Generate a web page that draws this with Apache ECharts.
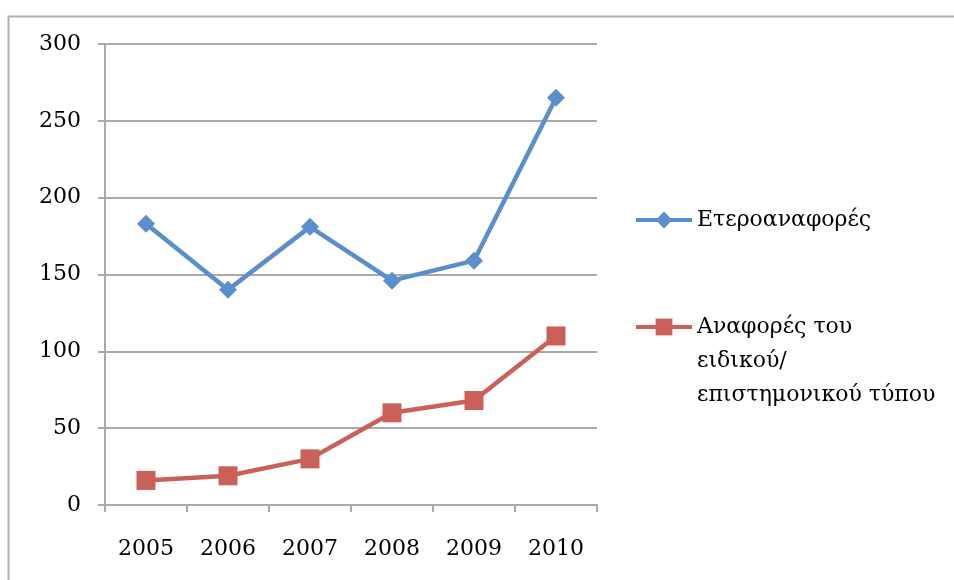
<!DOCTYPE html>
<html>
<head>
<meta charset="utf-8">
<script src="https://cdn.jsdelivr.net/npm/echarts@6/dist/echarts.min.js"></script>
<style>
html,body{margin:0;padding:0;background:#fff;}
#chart{width:954px;height:580px;}
</style>
</head>
<body>
<div id="chart"></div>
<script>
const years = ['2005', '2006', '2007', '2008', '2009', '2010'];
const seriesNames = ['Ετεροαναφορές', 'Αναφορές του\nειδικού/\nεπιστημονικού τύπου'];
const heteroRefs = [183, 140, 181, 146, 159, 265];
const scientificPress = [16, 19, 30, 60, 68, 110];
const yTicks = { min: 0, max: 300, interval: 50 };

const FONT = 'DejaVu Serif';
const GRID_COLOR = '#a9a9a9';
const BLUE = '#5a8fcb';
const RED = '#cb6058';

const chart = echarts.init(document.getElementById('chart'));
chart.setOption({
  animation: false,
  backgroundColor: '#fff',
  graphic: [{
    type: 'rect',
    left: 6, top: 14,
    shape: { width: 1000, height: 1000 },
    style: { fill: 'none', stroke: '#b0b0b0', lineWidth: 2 },
    silent: true
  }],
  grid: { left: 105, top: 44, right: 357, bottom: 75, containLabel: false },
  legend: [{
    data: [seriesNames[0]],
    orient: 'vertical',
    left: 629, top: 200,
    itemWidth: 56, itemHeight: 21, itemGap: 0,
    lineStyle: { width: 4 },
    textStyle: { fontFamily: FONT, fontSize: 22, color: '#000', lineHeight: 30 }
  }, {
    data: [seriesNames[1]],
    orient: 'vertical',
    left: 629, top: 237,
    itemWidth: 56, itemHeight: 21, itemGap: 0,
    lineStyle: { width: 4 },
    formatter: function (name) { return '\n\n' + name; },
    textStyle: { fontFamily: FONT, fontSize: 22, color: '#000', lineHeight: 34 }
  }],
  xAxis: {
    type: 'category',
    data: years,
    boundaryGap: true,
    axisLine: { show: true, lineStyle: { color: GRID_COLOR, width: 2 } },
    axisTick: { show: true, length: 7, interval: 0, lineStyle: { color: GRID_COLOR, width: 2 } },
    axisLabel: { fontFamily: FONT, fontSize: 22, color: '#000', margin: 33, interval: 0 },
    splitLine: { show: false }
  },
  yAxis: {
    type: 'value',
    min: yTicks.min, max: yTicks.max, interval: yTicks.interval,
    axisLine: { show: true, lineStyle: { color: GRID_COLOR, width: 2 } },
    axisTick: { show: true, length: 7, lineStyle: { color: GRID_COLOR, width: 2 } },
    axisLabel: { fontFamily: FONT, fontSize: 22, color: '#000', margin: 24 },
    splitLine: { show: true, lineStyle: { color: GRID_COLOR, width: 2 } }
  },
  series: [{
    name: seriesNames[0],
    type: 'line',
    data: heteroRefs,
    symbol: 'diamond',
    symbolSize: 18,
    showAllSymbol: true,
    lineStyle: { color: BLUE, width: 4.5 },
    itemStyle: { color: BLUE }
  }, {
    name: seriesNames[1],
    type: 'line',
    data: scientificPress,
    symbol: 'rect',
    symbolSize: 19,
    showAllSymbol: true,
    lineStyle: { color: RED, width: 4.5 },
    itemStyle: { color: RED }
  }]
});
</script>
</body>
</html>
